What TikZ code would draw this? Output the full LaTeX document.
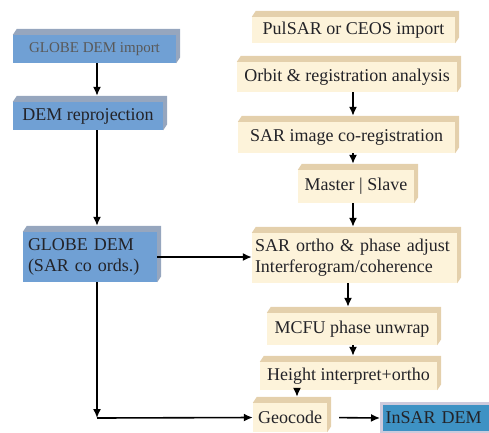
\documentclass[tikz,border=0pt]{standalone}
\usepackage{fontspec}
\setmainfont{Liberation Serif}
\usetikzlibrary{arrows.meta}
\definecolor{bluefront}{RGB}{112,160,212}
\definecolor{bluetop}{RGB}{150,166,190}
\definecolor{creamfront}{RGB}{253,243,218}
\definecolor{creamtop}{RGB}{228,208,172}
\definecolor{insarblue}{RGB}{62,146,196}
\definecolor{insaredge}{RGB}{206,202,220}
\definecolor{boxtext}{RGB}{35,35,40}

\begin{document}
\begin{tikzpicture}[x = 1pt, y = -1pt, >={Latex[length=9pt, width=8pt]},
    bluebox/.style = {fill = bluefront, inner sep = 0pt, text = boxtext, font = \fontsize{18}{21}\selectfont},
    creambox/.style = {fill = creamfront, inner sep = 0pt, text = boxtext, font = \fontsize{18}{21}\selectfont}]

        \useasboundingbox (0,0) rectangle (489,432);

        \node [bluebox, minimum width = 163pt, minimum height = 28pt, font = \fontsize{15}{18}\selectfont, text = black!65] (globeimp) at (94.5,49) {GLOBE DEM import};
        \node [bluebox, minimum width = 150pt, minimum height = 28pt] (reproj) at (88,116) {DEM reprojection};
        \node [bluebox, minimum width = 134pt, minimum height = 50pt, text width = 124pt, align = left] (globedem) at (90,257) {GLOBE DEM\\(SAR co ords.)};

        \node [creambox, minimum width = 203pt, minimum height = 26pt] (pulsar) at (353.5,30) {PulSAR or CEOS import};
        \node [creambox, minimum width = 220pt, minimum height = 30pt] (orbit) at (347,77) {Orbit \& registration analysis};
        \node [creambox, minimum width = 217pt, minimum height = 31pt] (coreg) at (346.5,137.5) {SAR image co-registration};
        \node [creambox, minimum width = 116pt, minimum height = 33pt] (master) at (356,186.5) {Master | Slave};
        \node [creambox, minimum width = 205pt, minimum height = 50pt, text width = 199pt, align = left] (ortho) at (354.5,258) {SAR ortho \& phase adjust\\Interferogram/coherence};
        \node [creambox, minimum width = 170pt, minimum height = 32pt] (mcfu) at (352,329) {MCFU phase unwrap};
        \node [creambox, minimum width = 177pt, minimum height = 28pt] (height) at (348.5,376) {Height interpret+ortho};
        \node [creambox, minimum width = 74pt, minimum height = 29pt] (geocode) at (290,417.5) {Geocode};
        \node [bluebox, fill = insarblue, draw = insaredge, line width = 3pt, minimum width = 112pt, minimum height = 29pt, text width = 104pt, align = left, anchor = west] (insar) at (380,418) {InSAR DEM};

        \foreach \n/\c in {globeimp/bluetop, reproj/bluetop, globedem/bluetop, pulsar/creamtop, orbit/creamtop, coreg/creamtop, master/creamtop, ortho/creamtop, mcfu/creamtop, height/creamtop, geocode/creamtop} {
          \fill [\c] (\n.north west) -- ++(4,-6) -- ([shift={(4,-6)}]\n.north east) -- ([shift={(4,-6)}]\n.south east) -- (\n.south east) -- (\n.north east) -- cycle;
        }

        \coordinate (lcol) at (97,0);
        \coordinate (rcol) at (353,0);
        \coordinate (corner) at (97,418);

        \draw [->, line width = 1.6pt] (lcol |- globeimp.south) -- ([yshift=6pt]lcol |- reproj.north);
        \draw [->, line width = 1.6pt] (lcol |- reproj.south) -- ([yshift=6pt]lcol |- globedem.north);
        \draw [->, line width = 1.6pt] (lcol |- globedem.south) -- (corner);
        \draw [->, line width = 1.6pt] (corner) -- (geocode.west);
        \draw [->, line width = 1.6pt] (globedem.east) -- (globedem.east -| ortho.west);

        \draw [->, line width = 1.6pt] (rcol |- orbit.south) -- ([yshift=6pt]rcol |- coreg.north);
        \draw [->, line width = 1.6pt] (rcol |- coreg.south) -- ([yshift=6pt]rcol |- master.north);
        \draw [->, line width = 1.6pt] (rcol |- master.south) -- ([yshift=6pt]rcol |- ortho.north);
        \draw [->, line width = 1.6pt] ([xshift=-5pt]rcol |- ortho.south) -- ([xshift=-5pt, yshift=6pt]rcol |- mcfu.north);
        \draw [->, line width = 1.6pt] (rcol |- mcfu.south) -- ([yshift=6pt]rcol |- height.north);
        \draw [->, line width = 1.6pt] ([xshift=7pt]geocode |- height.south) -- ([xshift=7pt, yshift=6pt]geocode.north);
        \draw [->, line width = 1.6pt, shorten <= 12pt] (geocode.east) -- (insar.west);

\end{tikzpicture}
\end{document}
